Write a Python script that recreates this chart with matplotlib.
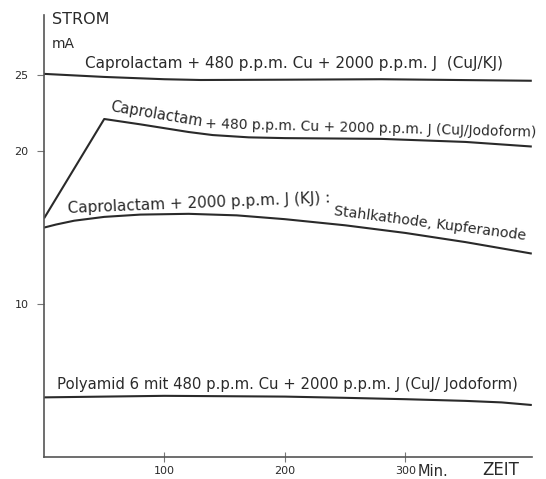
import numpy as np
import matplotlib
matplotlib.use("Agg")
import matplotlib.pyplot as plt

# Strom (mA) über Zeit (Min.)
t_kj = [0, 50, 100, 130, 200, 280, 405]
i_kj = [25.05, 24.85, 24.7, 24.65, 24.67, 24.7, 24.6]

t_jodo = [0, 50, 80, 100, 120, 140, 170, 200, 280, 350, 405]
i_jodo = [15.6, 22.1, 21.75, 21.5, 21.25, 21.05, 20.9, 20.85, 20.8, 20.6, 20.3]

t_stahl = [0, 10, 25, 50, 80, 120, 160, 200, 250, 300, 350, 405]
i_stahl = [15.0, 15.2, 15.45, 15.7, 15.85, 15.9, 15.8, 15.55, 15.15, 14.65, 14.05, 13.3]

t_pa = [0, 100, 200, 250, 300, 350, 380, 405]
i_pa = [3.9, 4.0, 3.95, 3.87, 3.78, 3.67, 3.57, 3.4]

yticks = [10, 20, 25]
xticks = [100, 200, 300]
xticklabels = ["100", "200", "300"]

ink = "#2a2a2a"
plt.rcParams["font.family"] = ["DejaVu Sans"]

fig = plt.figure(figsize=(5.46, 4.79), dpi=100)
ax = fig.add_axes([0.0806, 0.0459, 0.8934, 0.9228])
ax.set_xlim(0, 405)
ax.set_ylim(0, 28.9)

for t, v in [(t_kj, i_kj), (t_jodo, i_jodo), (t_stahl, i_stahl), (t_pa, i_pa)]:
    ax.plot(t, v, color=ink, lw=1.5, solid_capstyle="butt", solid_joinstyle="round")

for s in ["top", "right"]:
    ax.spines[s].set_visible(False)
for s in ["left", "bottom"]:
    ax.spines[s].set_color("#555555")
    ax.spines[s].set_linewidth(1.2)

ax.set_yticks(yticks)
ax.set_yticklabels([str(v) for v in yticks])
ax.set_xticks(xticks)
ax.set_xticklabels(xticklabels)
ax.tick_params(axis="y", direction="out", length=5, width=0.8, color="#777777",
               labelsize=8, labelcolor=ink, pad=6)
ax.tick_params(axis="x", direction="inout", length=7, width=0.8, color="#777777",
               labelsize=8, labelcolor=ink, pad=3)

ax.text(0.016, 0.99, "STROM", transform=ax.transAxes, fontsize=11.5, color=ink,
        va="center", ha="left")
ax.text(0.016, 0.935, "mA", transform=ax.transAxes, fontsize=10, color=ink,
        va="center", ha="left")
ax.text(310, -0.95, "Min.", fontsize=10.5, color=ink, va="center", ha="left")
ax.text(364, -0.85, "ZEIT", fontsize=12, color=ink, va="center", ha="left")

fs = 11
ax.text(34, 25.75, "Caprolactam + 480 p.p.m. Cu + 2000 p.p.m. J  (CuJ/KJ)",
        fontsize=fs, color=ink, va="center", ha="left")
ax.text(55, 22.9, "Caprolactam", fontsize=10.5, color=ink, va="center",
        ha="left", rotation=-9.5, rotation_mode="anchor")
ax.text(134, 21.75, "+ 480 p.p.m. Cu + 2000 p.p.m. J (CuJ/Jodoform)",
        fontsize=10, color=ink, va="center", ha="left", rotation=-1.5,
        rotation_mode="anchor")
ax.text(20, 16.27, "Caprolactam + 2000 p.p.m. J (KJ) :", fontsize=fs,
        color=ink, va="center", ha="left", rotation=2.3, rotation_mode="anchor")
ax.text(241, 16.1, "Stahlkathode, Kupferanode", fontsize=10.3, color=ink,
        va="center", ha="left", rotation=-7.4, rotation_mode="anchor")
ax.text(11, 4.77, "Polyamid 6 mit 480 p.p.m. Cu + 2000 p.p.m. J (CuJ/ Jodoform)",
        fontsize=10.7, color=ink, va="center", ha="left")

fig.savefig("out.png", dpi=100)
